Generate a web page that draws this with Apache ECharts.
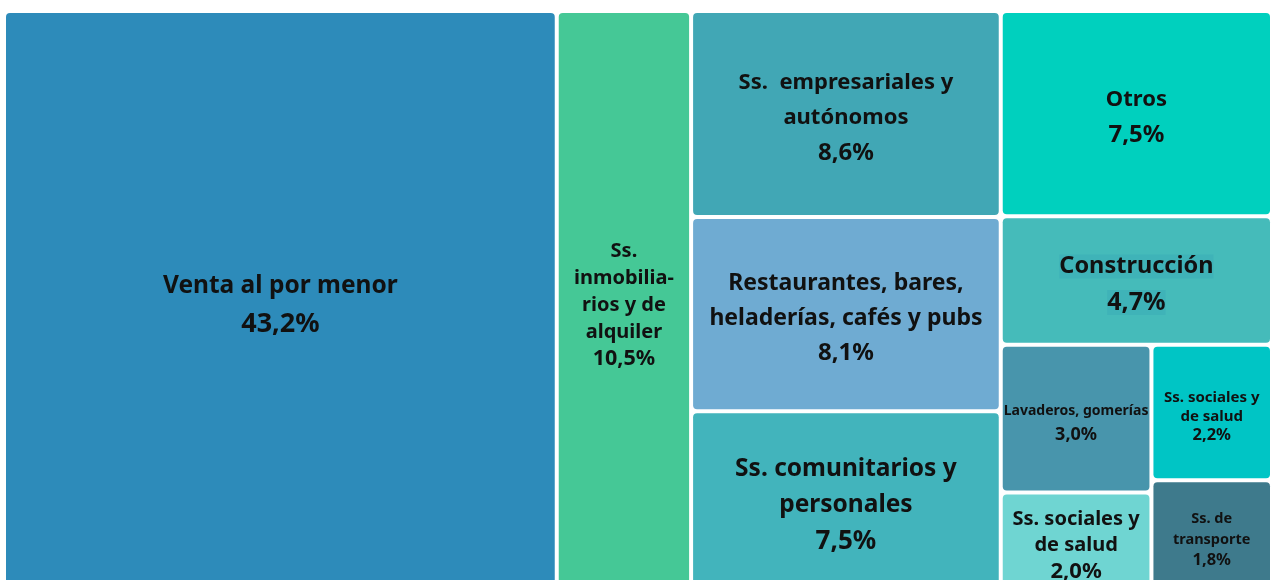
<!DOCTYPE html>
<html>
<head>
<meta charset="utf-8">
<script src="https://cdn.jsdelivr.net/npm/echarts@6/dist/echarts.min.js"></script>
<style>
  html, body { margin: 0; padding: 0; background: #fff; }
  #chart { width: 1272px; height: 580px; }
</style>
</head>
<body>
<div id="chart"></div>
<script>
// rubros y su participación (%)
const names = [
  'Venta al por menor',
  'Ss. inmobiliarios y de alquiler',
  'Ss. empresariales y autónomos',
  'Restaurantes, bares, heladerías, cafés y pubs',
  'Ss. comunitarios y personales',
  'Otros',
  'Construcción',
  'Lavaderos, gomerías',
  'Ss. sociales y de salud',
  'Ss. sociales y de salud',
  'Ss. de transporte'
]
// texto tal como aparece en cada bloque
const labels = [
  'Venta al por menor',
  'Ss.\ninmobilia-\nrios y de\nalquiler',
  'Ss.  empresariales y\nautónomos',
  'Restaurantes, bares,\nheladerías, cafés y pubs',
  'Ss. comunitarios y\npersonales',
  'Otros',
  'Construcción',
  'Lavaderos, gomerías',
  'Ss. sociales y\nde salud',
  'Ss. sociales y\nde salud',
  'Ss. de\ntransporte'
]
const values = [43.2, 10.5, 8.6, 8.1, 7.5, 7.5, 4.7, 3.0, 2.0, 2.2, 1.8]
const colors = [
  '#2d8bba', '#45c896', '#41a7b5', '#6fabd2', '#42b4bc', '#00d0be',
  '#45bbba', '#4895ac', '#6fd5d2', '#00c5c5', '#3e7a8c'
]

// agrupación de los bloques (índices en los arreglos de arriba)
const groups = [0, [1, [[2, 3, 4], [5, 6, [[7, 8], [9, 10]]]]]]

// tamaño de letra: [nombre, porcentaje, interlineado]
const fontSizes = [
  [24.5, 27, 38], [20, 21.5, 27], [22, 24, 35], [23, 24, 35], [24.5, 26, 36],
  [22, 24, 35], [23.5, 25, 36], [14, 18, 24], [20, 22, 26], [15, 16.5, 19], [14.5, 16.5, 21]
]

const fmt = (v) => v.toFixed(1).replace('.', ',') + '%'

// alto del bloque de texto de cada etiqueta, para centrarla en su rectángulo
const textHeights = {}

const buildNode = (g) => {
  if (typeof g === 'number') {
    const [fn, fv, lh] = fontSizes[g]
    const text = '{n|' + labels[g] + '}\n{v|' + fmt(values[g]) + '}'
    textHeights[text] = (labels[g].split('\n').length + 1) * lh
    const rich = {
      n: { fontSize: fn, lineHeight: lh, fontWeight: 'bold', color: '#111', fontFamily: 'Noto Sans' },
      v: { fontSize: fv, lineHeight: lh, fontWeight: 'bold', color: '#111', fontFamily: 'Noto Sans' }
    }
    // Construcción lleva un fondo apenas más oscuro detrás del texto
    if (g === 6) {
      rich.n.backgroundColor = '#3fb3b8'
      rich.v.backgroundColor = '#3fb3b8'
    }
    return {
      name: names[g],
      value: values[g],
      itemStyle: { color: colors[g], borderWidth: 2, borderColor: '#fff', borderRadius: 4 },
      label: { formatter: () => text, rich }
    }
  }
  const children = g.map(buildNode)
  return {
    name: '',
    value: children.reduce((s, c) => s + c.value, 0),
    itemStyle: { borderWidth: 0, gapWidth: 0 },
    children
  }
}

const chart = echarts.init(document.getElementById('chart'))
const option = {
  animation: false,
  tooltip: { show: false },
  series: [
    {
      type: 'treemap',
      left: 4,
      top: 11,
      width: 1268,
      height: 580,
      roam: false,
      nodeClick: false,
      sort: false,
      squareRatio: 1,
      visibleMin: 0,
      breadcrumb: { show: false },
      itemStyle: { borderWidth: 0, gapWidth: 0, borderColor: '#fff' },
      label: {
        show: true,
        position: 'inside',
        align: 'center',
        verticalAlign: 'middle',
        overflow: 'none',
        padding: 0
      },
      upperLabel: { show: false },
      data: groups.map(buildNode),
      // centrar el texto (un poco más abajo, como en el original)
      labelLayout: (p) => {
        const h = textHeights[p.text]
        if (h == null) return {}
        return { dy: Math.max(0, (p.rect.height - h) / 2 + 4) }
      }
    }
  ]
}
option && chart.setOption(option)
</script>
</body>
</html>
